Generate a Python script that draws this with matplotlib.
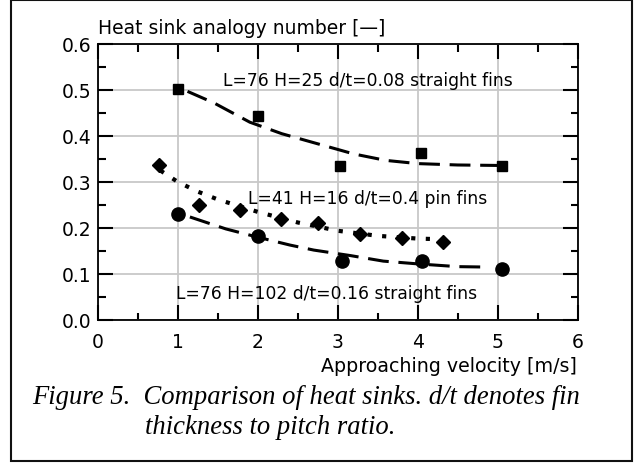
import matplotlib
matplotlib.use("Agg")
import matplotlib.pyplot as plt
from matplotlib.patches import Rectangle
from matplotlib.ticker import MultipleLocator

plt.rcParams['lines.scale_dashes'] = False

# Data
sq_x = [1.0, 2.0, 3.03, 4.04, 5.06]
sq_y = [0.502, 0.443, 0.335, 0.362, 0.335]
sq_fit_x = [1.12, 1.45, 1.9, 2.3, 2.75, 3.2, 3.6, 4.0, 4.5, 5.0]
sq_fit_y = [0.497, 0.472, 0.43, 0.405, 0.383, 0.361, 0.347, 0.34, 0.337, 0.336]

di_x = [0.76, 1.26, 1.78, 2.29, 2.75, 3.28, 3.8, 4.32]
di_y = [0.337, 0.25, 0.24, 0.22, 0.21, 0.187, 0.178, 0.169]
di_fit_x = [0.78, 1.0, 1.25, 1.5, 2.0, 2.5, 3.0, 3.5, 4.0, 4.2]
di_fit_y = [0.325, 0.30, 0.279, 0.262, 0.235, 0.212, 0.194, 0.183, 0.177, 0.176]

ci_x = [1.0, 2.0, 3.05, 4.06, 5.06]
ci_y = [0.23, 0.182, 0.129, 0.129, 0.111]
ci_fit_x = [1.15, 1.6, 2.0, 2.4, 2.7, 3.16, 3.57, 4.0, 4.5, 4.9]
ci_fit_y = [0.224, 0.198, 0.18, 0.163, 0.152, 0.14, 0.128, 0.122, 0.116, 0.115]

x_ticks = [0, 1, 2, 3, 4, 5, 6]
y_ticks = [0.0, 0.1, 0.2, 0.3, 0.4, 0.5, 0.6]

labels = ["L=76 H=25 d/t=0.08 straight fins",
          "L=41 H=16 d/t=0.4 pin fins",
          "L=76 H=102 d/t=0.16 straight fins"]

W, H = 635, 464
fig = plt.figure(figsize=(W / 100, H / 100), dpi=100)
fig.patch.set_facecolor('white')

# outer frame
fig.patches.append(Rectangle((11 / W, 1 - 462 / H), 621 / W, 461 / H,
                             transform=fig.transFigure, fill=False,
                             edgecolor='#111111', linewidth=1.5))

ax = fig.add_axes([98 / W, 1 - 321 / H, 479.5 / W, 276 / H])
ax.set_xlim(0, 6)
ax.set_ylim(0, 0.6)
ax.set_xticks(x_ticks)
ax.set_yticks(y_ticks)
ax.set_xticklabels([str(v) for v in x_ticks])
ax.set_yticklabels([f"{v:.1f}" for v in y_ticks])
ax.xaxis.set_minor_locator(MultipleLocator(0.5))
ax.yaxis.set_minor_locator(MultipleLocator(0.05))
ax.grid(True, which='major', color='#c8c8c8', linewidth=1.3)
ax.set_axisbelow(True)
for s in ax.spines.values():
    s.set_linewidth(1.3)
ax.tick_params(which='both', direction='in', top=True, right=True,
               width=1.5, color='black')
ax.tick_params(which='major', length=10.5, labelsize=13.5)
ax.tick_params(axis='x', which='major', pad=9)
ax.tick_params(axis='y', which='major', pad=5)
ax.tick_params(which='minor', length=5.4)
for lab in ax.get_xticklabels() + ax.get_yticklabels():
    lab.set_fontfamily('DejaVu Sans')

ax.plot(sq_fit_x, sq_fit_y, color='black', linewidth=2.2, dashes=(15, 7))
ax.plot(sq_x, sq_y, 's', color='black', markersize=6.8, linestyle='none')

ax.plot(di_fit_x, di_fit_y, color='black', linewidth=3.0, dashes=(3, 7.5))
ax.plot(di_x, di_y, 'D', color='black', markersize=7.5, linestyle='none')

ax.plot(ci_fit_x, ci_fit_y, color='black', linewidth=2.2, dashes=(15, 7))
ax.plot(ci_x, ci_y, 'o', color='black', markersize=9.5, linestyle='none')

tf = dict(fontsize=12.3, family='DejaVu Sans', va='center', ha='left')
ax.text(1.57, 0.522, labels[0], **tf)
ax.text(1.88, 0.265, labels[1], **tf)
ax.text(0.98, 0.058, labels[2], **tf)

fig.text(98 / W, 1 - 28 / H, "Heat sink analogy number [\u2014]",
         fontsize=13.5, family='DejaVu Sans', va='center', ha='left')
fig.text(577 / W, 1 - 367 / H, "Approaching velocity [m/s]",
         fontsize=13.7, family='DejaVu Sans', va='center', ha='right')

cap = dict(fontsize=19.2, family='Liberation Serif', style='italic',
           va='center', ha='left')
fig.text(32 / W, 1 - 398 / H,
         "Figure 5.  Comparison of heat sinks. d/t denotes fin", **cap)
fig.text(145 / W, 1 - 428 / H, "thickness to pitch ratio.", **cap)

fig.savefig("out.png", dpi=100, facecolor='white')
